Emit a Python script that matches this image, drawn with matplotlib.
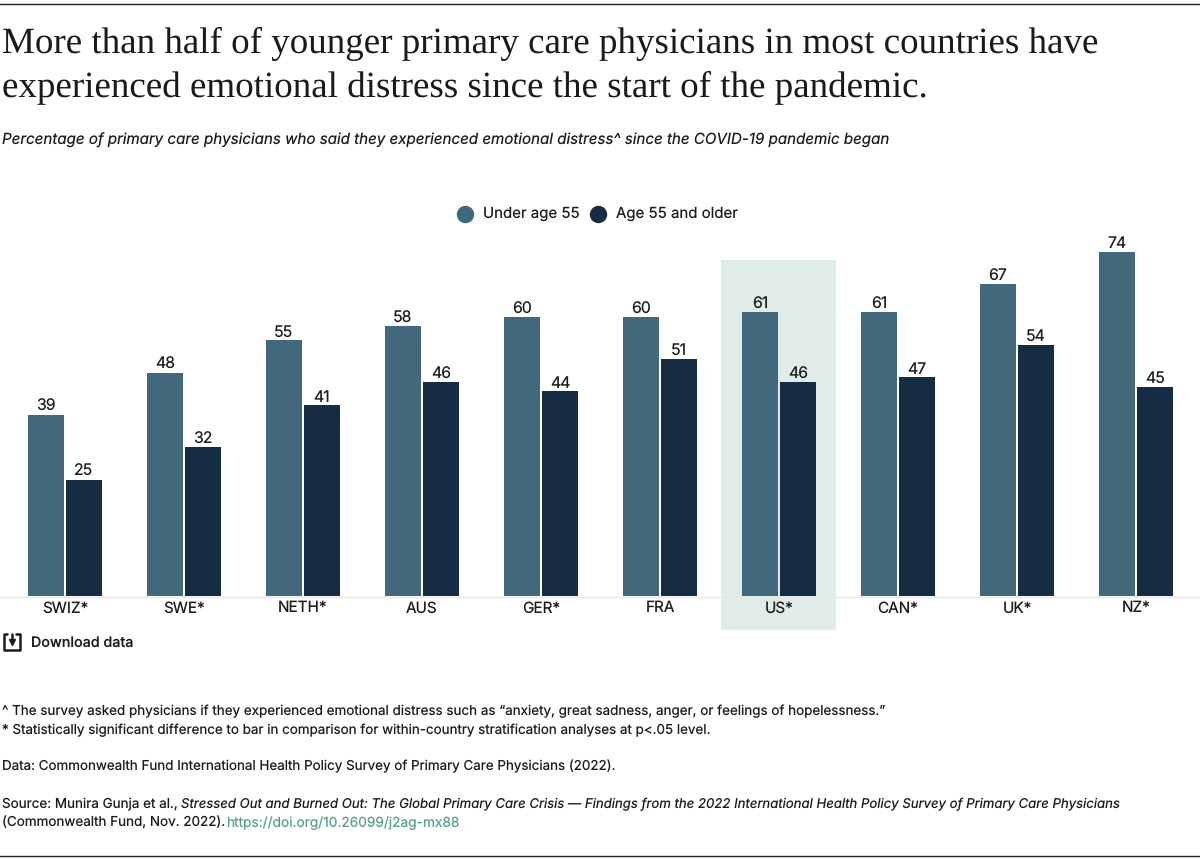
import matplotlib
matplotlib.use("Agg")
import matplotlib.pyplot as plt
import numpy as np
from matplotlib.patches import Rectangle
from matplotlib.lines import Line2D

countries = ["SWIZ*", "SWE*", "NETH*", "AUS", "GER*", "FRA", "US*", "CAN*", "UK*", "NZ*"]
under_55 = [39, 48, 55, 58, 60, 60, 61, 61, 67, 74]
over_55 = [25, 32, 41, 46, 44, 51, 46, 47, 54, 45]
series_names = ["Under age 55", "Age 55 and older"]
highlight = "US*"

title_lines = ["More than half of younger primary care physicians in most countries have",
               "experienced emotional distress since the start of the pandemic."]
subtitle = "Percentage of primary care physicians who said they experienced emotional distress^ since the COVID-19 pandemic began"
note1 = "^ The survey asked physicians if they experienced emotional distress such as \u201canxiety, great sadness, anger, or feelings of hopelessness.\u201d"
note2 = "* Statistically significant difference to bar in comparison for within-country stratification analyses at p<.05 level."
data_line = "Data: Commonwealth Fund International Health Policy Survey of Primary Care Physicians (2022)."
src_a = "Source: Munira Gunja et al., "
src_b = "Stressed Out and Burned Out: The Global Primary Care Crisis \u2014 Findings from the 2022 International Health Policy Survey of Primary Care Physicians"
src_c = "(Commonwealth Fund, Nov. 2022). "
src_d = "https://doi.org/10.26099/j2ag-mx88"

C1, C2 = "#41687b", "#152c43"
INK = "#1c1c1c"
W, H = 1200, 860
plt.rcParams["font.family"] = ["Inter", "DejaVu Sans"]
plt.rcParams["text.hinting"] = "no_hinting"
plt.rcParams["text.hinting_factor"] = 1
fig = plt.figure(figsize=(12, 8.6), dpi=100, facecolor="white")

def fx(x): return x / W
def fy(y): return 1 - y / H
def txt(x, y, s, **kw):
    kw.setdefault("color", INK); kw.setdefault("va", "center"); kw.setdefault("fontsize", 10)
    return fig.text(fx(x), fy(y), s, **kw)

# plot area: category spacing 119 px, baseline at y=596
ax = fig.add_axes([fx(5.5), fy(596), 1190 / W, 372 / H])
ax.set_xlim(-0.5, 9.5); ax.set_ylim(0, 80)
ax.patch.set_alpha(0)
for s in ax.spines.values():
    s.set_visible(False)
ax.set_yticks([])
x = np.arange(len(countries))
bw, off = 36 / 119, 19 / 119
hi = countries.index(highlight)
ax.add_patch(Rectangle((hi - 58.5 / 119, -34 / 4.65), 115 / 119, 370 / 4.65,
                       facecolor="#e0ece8", edgecolor="none", clip_on=False, zorder=0))
b1 = ax.bar(x - off, under_55, bw, color=C1, zorder=2)
b2 = ax.bar(x + off, over_55, bw, color=C2, zorder=2)
for bars in (b1, b2):
    ax.bar_label(bars, padding=0.3, fontsize=11.4, color=INK)
ax.set_xticks(x, countries, fontsize=11, color=INK)
ax.tick_params(axis="x", length=0, pad=3.6)
fig.add_artist(Line2D([0, 1], [fy(596.5)] * 2, color="#e6e6e6", lw=1, zorder=1))

# rules
fig.add_artist(Line2D([0, 1], [fy(3.5)] * 2, color="#222222", lw=1))
fig.add_artist(Line2D([0, 1], [fy(855.5)] * 2, color="#222222", lw=1))

# headings
for yy, line in zip((44, 87), title_lines):
    txt(2, yy, line, fontsize=26.85, family="Liberation Serif", color="#1a1a1a")
txt(2, 140, subtitle, fontsize=10.9, style="italic")

# legend
for cx, c, lx, name in zip((465, 598), (C1, C2), (483, 616), series_names):
    fig.add_artist(Line2D([fx(cx)], [fy(213.5)], marker="o", ms=11.5, mfc=c, mec=c, ls=""))
    txt(lx, 213.5, name, fontsize=10.8)

# download
txt(31, 642.5, "Download data", fontsize=10.3, weight="medium")
k = "#1c1c1c"
for xs, ys in [([7, 3.5, 3.5, 20, 20, 16], [634, 634, 650, 650, 634, 634]),
               ([11.7, 11.7], [634, 640])]:
    fig.add_artist(Line2D([fx(v) for v in xs], [fy(v) for v in ys], color=k, lw=1.8,
                          solid_joinstyle="round", solid_capstyle="round"))
fig.add_artist(Line2D([fx(11.7)], [fy(642)], marker="v", ms=4.5, mfc=k, mec=k, ls=""))

# notes
txt(2, 711, note1, fontsize=9.68)
txt(2, 730, note2, fontsize=9.65)
txt(2, 766, data_line, fontsize=9.65)
r = fig.canvas.get_renderer()
a = txt(2, 804, src_a, fontsize=9.7)
xa = a.get_window_extent(r).x1
txt(xa - 1, 804, src_b, fontsize=9.5, style="italic")
c = txt(2, 823, src_c, fontsize=9.7)
xc = c.get_window_extent(r).x1
txt(xc - 3, 823, src_d, fontsize=9.88, color="#57a08a")

fig.savefig("out.png", dpi=100, facecolor="white")
